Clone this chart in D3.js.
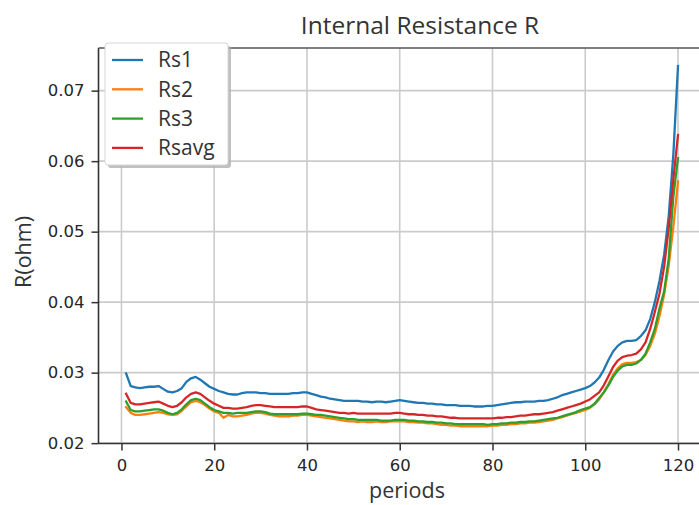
<!DOCTYPE html>
<html><head><meta charset="utf-8">
<script src="https://cdn.jsdelivr.net/npm/d3@7"></script>
<style>
html,body{margin:0;padding:0;background:#fff;}
svg{display:block;}
</style></head>
<body>
<svg id="chart" width="699" height="505"></svg>
<script>
const periods = d3.range(1, 121);
const rs1 = [0.0299,0.0281,0.0279,0.0278,0.0279,0.0280,0.0280,0.0281,0.0277,0.0273,
0.0272,0.0274,0.0278,0.0287,0.0292,0.0294,0.0290,0.0285,0.0280,0.0277,
0.0274,0.0272,0.0270,0.0269,0.0269,0.0271,0.0272,0.0272,0.0272,0.0271,
0.0271,0.0270,0.0270,0.0270,0.0270,0.0270,0.0271,0.0271,0.0272,0.0272,
0.0270,0.0268,0.0266,0.0265,0.0263,0.0262,0.0261,0.0260,0.0260,0.0260,
0.0260,0.0259,0.0259,0.0258,0.0259,0.0259,0.0258,0.0259,0.0260,0.0261,
0.0260,0.0259,0.0258,0.0257,0.0257,0.0256,0.0256,0.0255,0.0255,0.0254,
0.0254,0.0254,0.0253,0.0253,0.0253,0.0252,0.0252,0.0252,0.0253,0.0253,
0.0254,0.0255,0.0256,0.0257,0.0258,0.0258,0.0259,0.0259,0.0259,0.0260,
0.0260,0.0261,0.0263,0.0265,0.0268,0.0270,0.0272,0.0274,0.0276,0.0278,
0.0281,0.0286,0.0293,0.0304,0.0318,0.0330,0.0338,0.0343,0.0345,0.0345,
0.0346,0.0352,0.0360,0.0376,0.0400,0.0430,0.0467,0.0522,0.0610,0.0735];
const rs2 = [0.0251,0.0243,0.0240,0.0240,0.0241,0.0242,0.0243,0.0244,0.0243,0.0241,
0.0240,0.0241,0.0246,0.0252,0.0258,0.0260,0.0258,0.0254,0.0249,0.0245,
0.0243,0.0236,0.0240,0.0238,0.0238,0.0239,0.0240,0.0242,0.0243,0.0243,
0.0242,0.0240,0.0239,0.0238,0.0238,0.0238,0.0239,0.0239,0.0240,0.0240,
0.0239,0.0238,0.0237,0.0236,0.0235,0.0234,0.0233,0.0232,0.0231,0.0231,
0.0230,0.0231,0.0230,0.0230,0.0231,0.0230,0.0230,0.0231,0.0231,0.0231,
0.0231,0.0230,0.0230,0.0229,0.0229,0.0228,0.0228,0.0227,0.0226,0.0226,
0.0225,0.0225,0.0224,0.0224,0.0224,0.0224,0.0224,0.0224,0.0224,0.0225,
0.0225,0.0226,0.0226,0.0227,0.0227,0.0228,0.0228,0.0229,0.0229,0.0230,
0.0231,0.0232,0.0233,0.0235,0.0237,0.0239,0.0241,0.0243,0.0245,0.0247,
0.0250,0.0255,0.0262,0.0272,0.0284,0.0297,0.0306,0.0312,0.0314,0.0314,
0.0315,0.0318,0.0325,0.0338,0.0355,0.0380,0.0410,0.0452,0.0507,0.0571];
const rs3 = [0.0259,0.0247,0.0245,0.0245,0.0246,0.0247,0.0248,0.0248,0.0246,0.0243,
0.0241,0.0243,0.0248,0.0255,0.0261,0.0263,0.0261,0.0256,0.0251,0.0247,
0.0245,0.0243,0.0243,0.0242,0.0243,0.0243,0.0243,0.0244,0.0245,0.0245,
0.0244,0.0242,0.0241,0.0241,0.0241,0.0241,0.0241,0.0241,0.0242,0.0242,
0.0241,0.0240,0.0240,0.0239,0.0238,0.0237,0.0236,0.0235,0.0234,0.0234,
0.0233,0.0233,0.0233,0.0233,0.0233,0.0232,0.0232,0.0232,0.0233,0.0233,
0.0233,0.0232,0.0232,0.0231,0.0231,0.0230,0.0230,0.0229,0.0229,0.0228,
0.0228,0.0227,0.0227,0.0227,0.0227,0.0227,0.0227,0.0227,0.0226,0.0227,
0.0227,0.0228,0.0228,0.0229,0.0229,0.0230,0.0230,0.0231,0.0231,0.0232,
0.0233,0.0234,0.0235,0.0236,0.0238,0.0240,0.0242,0.0244,0.0247,0.0249,
0.0251,0.0256,0.0264,0.0272,0.0282,0.0294,0.0303,0.0309,0.0311,0.0311,
0.0313,0.0318,0.0327,0.0343,0.0362,0.0391,0.0415,0.0462,0.0550,0.0604];
const rsavg = [0.0270,0.0257,0.0255,0.0255,0.0256,0.0257,0.0258,0.0259,0.0256,0.0253,
0.0251,0.0253,0.0258,0.0265,0.0270,0.0272,0.0270,0.0265,0.0260,0.0256,
0.0253,0.0250,0.0250,0.0249,0.0249,0.0250,0.0251,0.0253,0.0254,0.0254,
0.0253,0.0252,0.0251,0.0251,0.0251,0.0251,0.0251,0.0251,0.0252,0.0252,
0.0250,0.0248,0.0247,0.0246,0.0245,0.0244,0.0243,0.0243,0.0242,0.0243,
0.0242,0.0242,0.0242,0.0242,0.0242,0.0242,0.0242,0.0242,0.0243,0.0243,
0.0242,0.0241,0.0241,0.0240,0.0240,0.0239,0.0239,0.0238,0.0238,0.0237,
0.0236,0.0236,0.0235,0.0235,0.0235,0.0235,0.0235,0.0235,0.0235,0.0235,
0.0236,0.0236,0.0237,0.0237,0.0238,0.0239,0.0239,0.0240,0.0241,0.0241,
0.0242,0.0243,0.0244,0.0246,0.0248,0.0250,0.0252,0.0254,0.0256,0.0259,
0.0262,0.0267,0.0272,0.0282,0.0295,0.0308,0.0317,0.0322,0.0324,0.0325,
0.0327,0.0333,0.0343,0.0362,0.0386,0.0412,0.0450,0.0505,0.0575,0.0637];
const seriesNames = ["Rs1","Rs2","Rs3","Rsavg"];
const seriesColors = ["#1f77b4","#ff7f0e","#2ca02c","#d62728"];
const xTicks = [0,20,40,60,80,100,120];
const yTicks = [0.02,0.03,0.04,0.05,0.06,0.07];

const allSeries = [rs1, rs2, rs3, rsavg];
const svg = d3.select("#chart");
const L = 98.5, R = 705.6, T = 48, B = 443.5;

const x = d3.scaleLinear().domain([-4.95, 125.95]).range([L, R]);
const y = d3.scaleLinear().domain([0.01995, 0.07605]).range([B, T]);

// grid
const grid = svg.append("g");
grid.selectAll("line.gx").data(xTicks).join("line")
  .attr("x1", d => x(d)).attr("x2", d => x(d)).attr("y1", T).attr("y2", B)
  .attr("stroke", "#cbcbcb").attr("stroke-width", 1.6);
grid.selectAll("line.gy").data(yTicks).join("line")
  .attr("x1", L).attr("x2", R).attr("y1", d => y(d)).attr("y2", d => y(d))
  .attr("stroke", "#cbcbcb").attr("stroke-width", 1.6);

// lines
svg.append("defs").append("clipPath").attr("id","clip")
  .append("rect").attr("x", L).attr("y", T).attr("width", R - L).attr("height", B - T);
const line = d3.line().x((d, i) => x(periods[i])).y(d => y(d));
const lg = svg.append("g").attr("clip-path", "url(#clip)");
allSeries.forEach((s, k) => {
  lg.append("path").datum(s).attr("d", line)
    .attr("fill", "none").attr("stroke", seriesColors[k])
    .attr("stroke-width", 2.3).attr("stroke-linejoin", "round").attr("stroke-linecap", "square");
});

// axes
const xAxis = svg.append("g").attr("transform", `translate(0,${B})`)
  .call(d3.axisBottom(x).tickValues(xTicks).tickSize(7).tickPadding(9).tickSizeOuter(0));
const yAxis = svg.append("g").attr("transform", `translate(${L},0)`)
  .call(d3.axisLeft(y).tickValues(yTicks).tickFormat(d3.format(".2f")).tickSize(7).tickPadding(7).tickSizeOuter(0));
[xAxis, yAxis].forEach(a => {
  a.select(".domain").remove();
  a.selectAll(".tick line").attr("stroke", "#333").attr("stroke-width", 1.5);
  a.selectAll(".tick text").attr("fill", "#262626")
    .style("font-family", "'DejaVu Sans', sans-serif").style("font-size", "16.5px");
});
// spines
svg.append("line").attr("x1", L).attr("x2", L).attr("y1", T).attr("y2", B).attr("stroke", "#333").attr("stroke-width", 1.6);
svg.append("line").attr("x1", L).attr("x2", R).attr("y1", B).attr("y2", B).attr("stroke", "#333").attr("stroke-width", 1.6);
svg.append("line").attr("x1", L).attr("x2", R).attr("y1", T).attr("y2", T).attr("stroke", "#555").attr("stroke-width", 1.6);

// title and labels
svg.append("text").attr("x", 420).attr("y", 34).attr("text-anchor", "middle")
  .style("font-family", "'Open Sans', sans-serif").style("font-size", "24.5px").attr("fill", "#333")
  .text("Internal Resistance R");
svg.append("text").attr("x", 407).attr("y", 498).attr("text-anchor", "middle")
  .style("font-family", "'Open Sans', sans-serif").style("font-size", "21.5px").attr("fill", "#333")
  .text("periods");
svg.append("text").attr("transform", "translate(31,252) rotate(-90)").attr("text-anchor", "middle")
  .style("font-family", "'Open Sans', sans-serif").style("font-size", "21.5px").attr("fill", "#333")
  .text("R(ohm)");

// legend
const leg = svg.append("g");
leg.append("rect").attr("x", 108).attr("y", 46).attr("width", 123).attr("height", 122).attr("rx", 3)
  .attr("fill", "#b0b0b0").attr("opacity", 0.8);
leg.append("rect").attr("x", 105).attr("y", 43).attr("width", 123).attr("height", 122).attr("rx", 3)
  .attr("fill", "#fff").attr("stroke", "#d6d6d6").attr("stroke-width", 1);
seriesNames.forEach((n, k) => {
  const cy = 60 + k * 29.3;
  leg.append("line").attr("x1", 112).attr("x2", 143).attr("y1", cy).attr("y2", cy)
    .attr("stroke", seriesColors[k]).attr("stroke-width", 2.3);
  leg.append("text").attr("x", 158).attr("y", cy).attr("dy", "0.35em")
    .style("font-family", "'Open Sans', sans-serif").style("font-size", "21px").attr("fill", "#333")
    .text(n);
});
</script>
</body></html>
